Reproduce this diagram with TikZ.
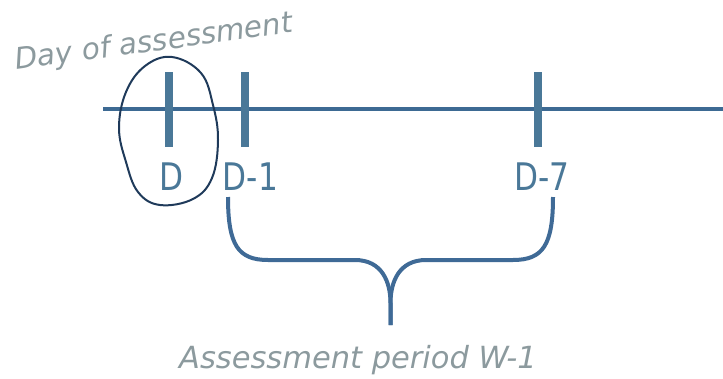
\documentclass[tikz,border=0pt]{standalone}
\usepackage{fontspec}
\setmainfont{DejaVu Sans}
\definecolor{axisblue}{HTML}{3D6A93}
\definecolor{tickblue}{HTML}{4A7898}
\definecolor{bracecol}{HTML}{3F6A96}
\definecolor{ringcol}{HTML}{1F3A5A}
\definecolor{graytxt}{HTML}{8C9A9E}
\tikzset{
  axisline/.style={draw=axisblue, line width=3.5pt},
  tickline/.style={draw=tickblue, line width=8pt},
  ticklabel/.style={text=tickblue, anchor=base, inner sep=0pt, xscale=0.82,
    font=\fontsize{38}{44}\selectfont},
  notetxt/.style={text=graytxt, inner sep=0pt,
    font=\fontsize{30.5}{34}\selectfont\itshape},
  bracepath/.style={draw=bracecol, line width=4pt},
  ringpath/.style={draw=ringcol, line width=2pt},
}
\begin{document}
\begin{tikzpicture}[x=1pt,y=-1pt]
\useasboundingbox (0,0) rectangle (723,378);
% axis
\coordinate (axL) at (103,109);
\coordinate (axR) at (723,109);
\draw[axisline] (axL) -- (axR);
% ticks
\coordinate (tDt) at (168.5,72);  \coordinate (tDb) at (168.5,147);
\coordinate (tAt) at (245,72);    \coordinate (tAb) at (245,147);
\coordinate (tBt) at (538,72);    \coordinate (tBb) at (538,147);
\draw[tickline] (tDt) -- (tDb);
\draw[tickline] (tAt) -- (tAb);
\draw[tickline] (tBt) -- (tBb);
% labels
\node[ticklabel] (lD)  at (171.5,190) {D};
\node[ticklabel] (lD1) at (250.5,190) {D-1};
\node[ticklabel] (lD7) at (542,190) {D-7};
% ring around D
\draw[ringpath] plot[smooth cycle, tension=0.65] coordinates {
  (172,57) (201,73) (213,105) (218,140) (212,178) (193,199) (160,205)
  (138,192) (126,162) (119,128) (126,92) (145,66)};
% brace
\coordinate (bL) at (228,197);
\coordinate (bR) at (553,197);
\coordinate (bTip) at (390.5,325);
\draw[bracepath] (bL) .. controls (228,245) and (238,260) .. (268,260)
  -- (355,260) .. controls (382,260) and (390.5,282) .. (390.5,303) -- (bTip);
\draw[bracepath] (bR) .. controls (553,245) and (543,260) .. (513,260)
  -- (426,260) .. controls (399,260) and (390.5,282) .. (390.5,303) -- (bTip);
% notes
\node[notetxt, anchor=base west, rotate=7.7, font=\fontsize{29.5}{34}\selectfont\itshape] (day) at (16,70) {Day of assessment};
\node[notetxt, anchor=base] (period) at (358,368) {Assessment period W-1};
\end{tikzpicture}
\end{document}
